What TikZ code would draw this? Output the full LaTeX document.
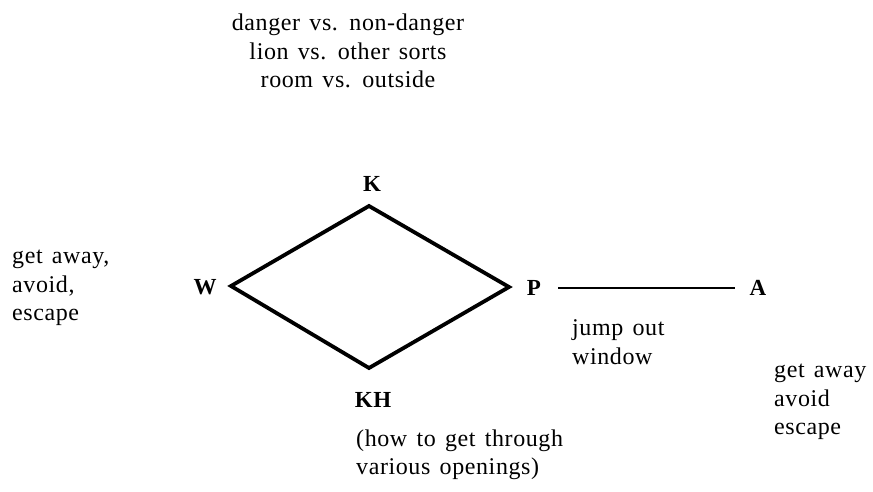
\documentclass[tikz,border=0pt]{standalone}
\usepackage{fontspec}
\setmainfont{Liberation Serif}[LetterSpace=2.5, WordSpace={1.4}]
\begin{document}
\begin{tikzpicture}[x=1pt,y=-1pt,
  txt/.style={font=\fontsize{24}{28.5}\selectfont, inner sep=0pt, align=left},
  ctxt/.style={font=\fontsize{24}{28.5}\selectfont, inner sep=0pt, align=center},
  lbl/.style={font=\fontsize{23}{28}\selectfont\bfseries, inner sep=0pt},
  edge/.style={line width=3.8pt, line join=miter},
  link/.style={line width=2.8pt}]
\useasboundingbox (0,0) rectangle (873,491);
\coordinate (w) at (231,286);
\coordinate (k) at (369,206);
\coordinate (p) at (509,287);
\coordinate (h) at (369,368);
\draw[edge] (w) -- (k) -- (p) -- (h) -- cycle;
\node[lbl] (Kl) at (372,184) {K};
\node[lbl] (Wl) at (205,287) {W};
\node[lbl] (Pl) at (534,288) {P};
\node[lbl] (Al) at (758,288) {A};
\node[lbl] (KHl) at (373,400) {KH};
\draw[link, shorten <=17pt, shorten >=15pt] (Pl.east) -- (Al.west);
\node[ctxt] (top) at (348,51) {danger vs. non-danger\\lion vs. other sorts\\room vs. outside};
\node[txt, anchor=west] (left) at (12,288) {get away,\\avoid,\\escape};
\node[txt, anchor=west] (jump) at (572,342) {jump out\\window};
\node[txt, anchor=west] (right) at (774,402) {get away\\avoid\\escape};
\node[txt, anchor=west] (how) at (356,455) {(how to get through\\various openings)};
\end{tikzpicture}
\end{document}
